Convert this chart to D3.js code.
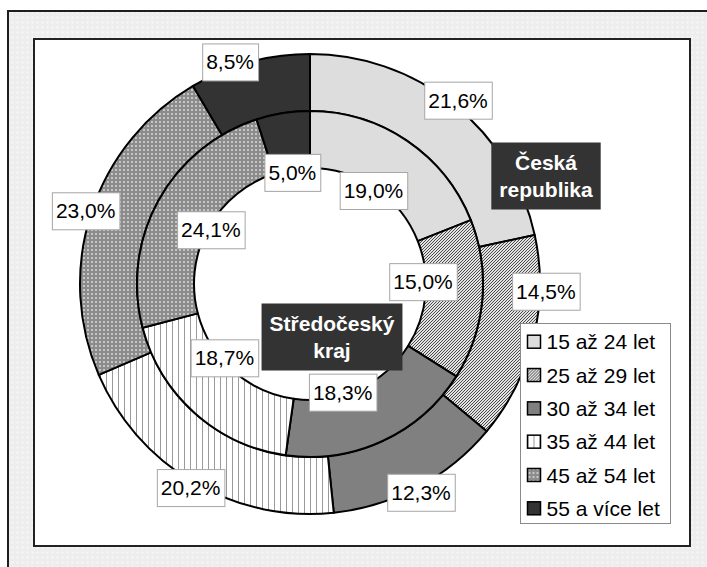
<!DOCTYPE html>
<html>
<head>
<meta charset="utf-8">
<script src="https://cdn.jsdelivr.net/npm/d3@7/dist/d3.min.js"></script>
<style>
    body{ margin:0; background:#fff; }
    svg{ display:block; font-family:"Liberation Sans", Arial, sans-serif; }
</style>
</head>
<body>
<script>
(function(){
    // chart data
    var categories = ["15 až 24 let", "25 až 29 let", "30 až 34 let", "35 až 44 let", "45 až 54 let", "55 a více let"];
    var ceskaRepublika = [21.6, 14.5, 12.3, 20.2, 23.0, 8.5];
    var stredocesky = [19.0, 15.0, 18.3, 18.7, 24.1, 5.0];
    var ringNames = ["Česká republika", "Středočeský kraj"];

    var fills = ["#dddddd", "url(#pat25)", "#808080", "url(#pat35)", "url(#pat45)", "#333333"];

    var width = 707,
        height = 567,
        cx = 310,
        cy = 284,
        outerR = 230,
        midR = 173,
        holeR = 116,
        plot = {x: 34, y: 39, w: 656, h: 507},
        legendBox = {x: 520.5, y: 323.5, w: 150, h: 200, gap: 12};

    window.onload = drawChart;

    function drawChart(){
        var svg = d3.select("body")
            .append("svg")
            .attr("width", width)
            .attr("height", height);

        makePatterns(svg.append("defs"));

        // chart area + plot area
        svg.append("rect")
            .attr("x", 8).attr("y", 11)
            .attr("width", 740).attr("height", 620)
            .attr("fill", "url(#patBg)")
            .attr("stroke", "#1e1e1e")
            .attr("stroke-width", 2);

        svg.append("rect")
            .attr("x", plot.x).attr("y", plot.y)
            .attr("width", plot.w).attr("height", plot.h)
            .attr("fill", "#fff")
            .attr("stroke", "#222")
            .attr("stroke-width", 2);

        var pie = d3.pie().sort(null).value(d => d);

        var rings = [
            {values: ceskaRepublika, inner: midR, outer: outerR, labelR: 236},
            {values: stredocesky, inner: holeR, outer: midR, labelR: 113}
        ];

        var g = svg.append("g")
            .attr("transform", "translate(" + cx + "," + cy + ")");

        rings.forEach(function(ring, ri){
            var arc = d3.arc().innerRadius(ring.inner).outerRadius(ring.outer);
            ring.slices = pie(ring.values);

            g.selectAll(".slice" + ri)
                .data(ring.slices)
                .enter()
                .append("path")
                .attr("class", "slice" + ri)
                .attr("d", arc)
                .attr("fill", (d, i) => fills[i])
                .attr("stroke", "#000")
                .attr("stroke-width", 2)
                .attr("stroke-linejoin", "round");
        });

        // ring name boxes
        var boxes = [];
        boxes.push(drawNameBox(svg, ringNames[0], cx + 236, cy - 108));
        boxes.push(drawNameBox(svg, ringNames[1], cx + 22, cy + 53));

        drawLegend(svg);

        var obstacles = boxes.concat([legendBox]);

        // data labels
        rings.forEach(function(ring){
            ring.slices.forEach(function(s){
                var lab = svg.append("g");
                var txt = lab.append("text")
                    .attr("text-anchor", "middle")
                    .attr("dy", "0.36em")
                    .attr("font-size", 21)
                    .attr("fill", "#000")
                    .text(s.data.toFixed(1).replace(".", ",") + "%");
                var bw = txt.node().getComputedTextLength() + 8,
                    bh = 37;

                var mid = (s.startAngle + s.endAngle) / 2;
                var pos = placeLabel(mid, ring.labelR, bw, bh, obstacles);

                lab.attr("transform", "translate(" + pos[0] + "," + pos[1] + ")");
                lab.insert("rect", "text")
                    .attr("x", -bw / 2 + 0.5)
                    .attr("y", -bh / 2 + 0.5)
                    .attr("width", bw)
                    .attr("height", bh)
                    .attr("fill", "#fff")
                    .attr("stroke", "#a6a6a6")
                    .attr("stroke-width", 1);
            });
        });
    }

    // rotate a label along its ring until it is clear of boxes
    function placeLabel(angle, r, bw, bh, obstacles){
        var step = Math.PI / 360;
        for (var k = 0; k < 160; k++){
            var tries = k === 0 ? [0] : [-k, k];
            for (var t = 0; t < tries.length; t++){
                var a = angle + tries[t] * step;
                var x = cx + r * Math.sin(a),
                    y = cy - r * Math.cos(a);
                if (isClear(x, y, bw, bh, obstacles)) return [x, y];
            }
        }
        return [cx + r * Math.sin(angle), cy - r * Math.cos(angle)];
    }

    function isClear(x, y, bw, bh, obstacles){
        var l = x - bw / 2, r = x + bw / 2, t = y - bh / 2, b = y + bh / 2;
        if (l < plot.x + 4 || r > plot.x + plot.w - 4 || t < plot.y + 4 || b > plot.y + plot.h - 4) return false;
        for (var i = 0; i < obstacles.length; i++){
            var o = obstacles[i],
                gap = o.gap || 3;
            if (r > o.x - gap && l < o.x + o.w + gap && b > o.y - gap && t < o.y + o.h + gap) return false;
        }
        return true;
    }

    function drawNameBox(svg, name, x, y){
        var lines = name.split(" "),
            lineH = 27,
            pad = 8;

        var grp = svg.append("g")
            .attr("transform", "translate(" + x + "," + y + ")");

        var txt = grp.append("text")
            .attr("text-anchor", "middle")
            .attr("font-size", 21)
            .attr("font-weight", "bold")
            .attr("fill", "#fff");

        txt.selectAll("tspan")
            .data(lines)
            .enter()
            .append("tspan")
            .attr("x", 0)
            .attr("y", (d, i) => (i - (lines.length - 1) / 2) * lineH)
            .attr("dy", "0.36em")
            .text(d => d);

        var w = d3.max(txt.selectAll("tspan").nodes(), n => n.getComputedTextLength()) + pad * 2,
            h = lines.length * lineH + 13;

        grp.insert("rect", "text")
            .attr("x", -w / 2)
            .attr("y", -h / 2)
            .attr("width", w)
            .attr("height", h)
            .attr("fill", "#333333");

        return {x: x - w / 2, y: y - h / 2, w: w, h: h};
    }

    function drawLegend(svg){
        var legend = svg.append("g");

        legend.append("rect")
            .attr("x", legendBox.x).attr("y", legendBox.y)
            .attr("width", legendBox.w).attr("height", legendBox.h)
            .attr("fill", "#fff")
            .attr("stroke", "#8a8a8a")
            .attr("stroke-width", 1);

        var rowY = d3.scalePoint()
            .domain(categories)
            .range([legendBox.y + 18.2, legendBox.y + 184.8]);

        var items = legend.selectAll(".item")
            .data(categories)
            .enter()
            .append("g")
            .attr("class", "item")
            .attr("transform", d => "translate(" + (legendBox.x + 7) + "," + rowY(d) + ")");

        items.append("rect")
            .attr("x", 0).attr("y", -6.5)
            .attr("width", 13).attr("height", 13)
            .attr("fill", (d, i) => fills[i])
            .attr("stroke", "#000")
            .attr("stroke-width", 1.5);

        items.append("text")
            .attr("x", 19)
            .attr("dy", "0.36em")
            .attr("font-size", 21)
            .attr("fill", "#000")
            .text(d => d);
    }

    function makePatterns(defs){
        // background dots
        var bg = defs.append("pattern")
            .attr("id", "patBg")
            .attr("patternUnits", "userSpaceOnUse")
            .attr("width", 5).attr("height", 5);
        bg.append("rect").attr("width", 5).attr("height", 5).attr("fill", "#ededed");
        bg.append("circle").attr("cx", 2.5).attr("cy", 2.5).attr("r", 1.2).attr("fill", "#f6f6f6");

        // 25 az 29: fine diagonal hatch
        var p25 = defs.append("pattern")
            .attr("id", "pat25")
            .attr("patternUnits", "userSpaceOnUse")
            .attr("width", 3).attr("height", 3);
        p25.append("rect").attr("width", 3).attr("height", 3).attr("fill", "#e2e2e2");
        p25.append("path")
            .attr("d", "M-1,1L1,-1M0,3L3,0M2,4L4,2")
            .attr("stroke", "#3a3a3a")
            .attr("stroke-width", 0.9);

        // 35 az 44: vertical lines
        var p35 = defs.append("pattern")
            .attr("id", "pat35")
            .attr("patternUnits", "userSpaceOnUse")
            .attr("width", 6).attr("height", 6);
        p35.append("rect").attr("width", 6).attr("height", 6).attr("fill", "#fff");
        p35.append("rect").attr("x", 0).attr("width", 1).attr("height", 6).attr("fill", "#9a9a9a");

        // 45 az 54: grid of dots
        var p45 = defs.append("pattern")
            .attr("id", "pat45")
            .attr("patternUnits", "userSpaceOnUse")
            .attr("width", 4).attr("height", 4);
        p45.append("rect").attr("width", 4).attr("height", 4).attr("fill", "#8c8c8c");
        p45.append("rect").attr("x", 1).attr("y", 1).attr("width", 2).attr("height", 2).attr("fill", "#c6c6c6");
    }

})();
</script>
</body>
</html>
